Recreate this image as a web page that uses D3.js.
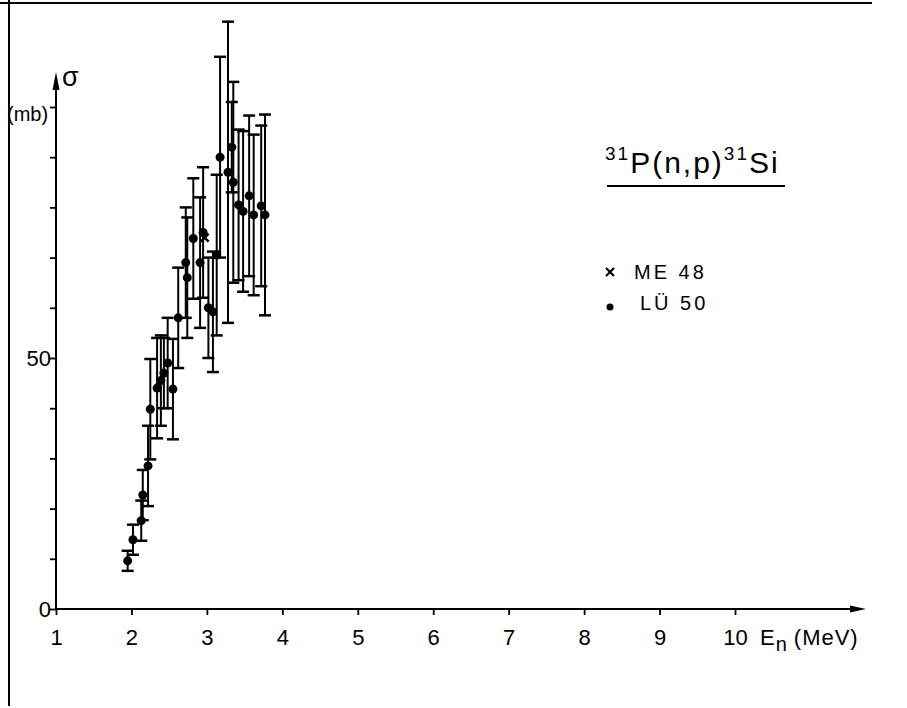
<!DOCTYPE html>
<html><head><meta charset="utf-8">
<script src="https://cdn.jsdelivr.net/npm/d3@7"></script>
<style>body{margin:0;background:#fff}svg{display:block}</style>
</head><body>
<script>
// LÜ 50 data: energy (MeV), cross section (mb), error (mb)
const luEnergy = [1.95,2.02,2.13,2.15,2.22,2.25,2.34,2.39,2.43,2.48,2.55,2.62,2.72,2.74,2.82,2.91,2.95,3.02,3.08,3.13,3.175,3.28,3.33,3.35,3.42,3.48,3.56,3.62,3.72,3.77];
const luSigma  = [9.6,13.8,17.6,22.7,28.5,39.8,44,45.5,47,49,43.8,58,69,66,73.8,69,75,60,59.2,70.5,90,87,92,85,80.5,79.2,82.3,78.5,80.3,78.5];
const luError  = [2,3,4,5,8,10,10,9,7,9,10,10,11,12,12,13,13,10,12,16,20,30,9,20,15,16,16,16,16,20];
// ME 48 data
const meEnergy = [2.97];
const meSigma  = [74];
// axis ticks
const xTicks = [1,2,3,4,5,6,7,8,9,10];
const yTicks = [0,10,20,30,40,50,60,70,80,90,100];
const yLabels = [0,50];

const W=907,H=708;
const svg=d3.select("body").append("svg").attr("width",W).attr("height",H);
const font="'Liberation Sans',Arial,sans-serif";
const x=d3.scaleLinear().domain([1,10]).range([56,735]);
const y=d3.scaleLinear().domain([0,100]).range([609,107]);

// frame lines
svg.append("line").attr("x1",9).attr("x2",9).attr("y1",0).attr("y2",706).attr("stroke","#000").attr("stroke-width",2);
svg.append("line").attr("x1",0).attr("x2",872).attr("y1",3).attr("y2",3).attr("stroke","#000").attr("stroke-width",2);

// axes
svg.append("line").attr("x1",x(1)).attr("x2",852).attr("y1",y(0)).attr("y2",y(0)).attr("stroke","#000").attr("stroke-width",2);
svg.append("path").attr("d",`M850,${y(0)-3.5}L866,${y(0)}L850,${y(0)+3.5}Z`).attr("fill","#000");
svg.append("line").attr("x1",x(1)).attr("x2",x(1)).attr("y1",y(0)).attr("y2",88).attr("stroke","#000").attr("stroke-width",2);
svg.append("path").attr("d",`M${x(1)-3.5},90L${x(1)},72L${x(1)+3.5},90Z`).attr("fill","#000");

const xAxis=d3.axisBottom(x).tickValues(xTicks).tickSize(6).tickFormat(d3.format("d"));
const gx=svg.append("g").attr("transform",`translate(0,${y(0)})`).call(xAxis);
gx.select(".domain").remove();
gx.selectAll(".tick line").attr("stroke","#000").attr("stroke-width",1.8);
gx.selectAll(".tick text").attr("font-family",font).attr("font-size",22).attr("fill","#000").attr("y",36).attr("dy",0);

const yAxis=d3.axisLeft(y).tickValues(yTicks).tickSize(6).tickFormat(d=>yLabels.includes(d)?d:"");
const gy=svg.append("g").attr("transform",`translate(${x(1)},0)`).call(yAxis);
gy.select(".domain").remove();
gy.selectAll(".tick line").attr("stroke","#000").attr("stroke-width",1.8);
gy.selectAll(".tick text").attr("font-family",font).attr("font-size",22).attr("fill","#000").attr("x",-5);

// axis titles
svg.append("text").attr("x",62).attr("y",86).attr("font-family",font).attr("font-size",27).text("σ");
svg.append("text").attr("x",7).attr("y",121).attr("font-family",font).attr("font-size",20).text("(mb)");
const xt=svg.append("text").attr("x",760).attr("y",645).attr("font-family",font).attr("font-size",22).attr("letter-spacing",1);
xt.append("tspan").text("E");
xt.append("tspan").attr("dy",6).attr("font-size",20).text("n");
xt.append("tspan").attr("dy",-6).attr("dx",6).text("(MeV)");

// data
const lu=luEnergy.map((e,i)=>({e,s:luSigma[i],err:luError[i]}));
const defs=svg.append("defs");
defs.append("clipPath").attr("id","clip").append("rect").attr("x",10).attr("y",4).attr("width",860).attr("height",620);
const g=svg.append("g").attr("clip-path","url(#clip)");
const cap=6;
lu.forEach(d=>{
  const cx=x(d.e);
  g.append("line").attr("x1",cx).attr("x2",cx).attr("y1",y(d.s-d.err)).attr("y2",y(d.s+d.err)).attr("stroke","#000").attr("stroke-width",2);
  [d.s-d.err,d.s+d.err].forEach(v=>g.append("line").attr("x1",cx-cap).attr("x2",cx+cap).attr("y1",y(v)).attr("y2",y(v)).attr("stroke","#000").attr("stroke-width",2.5));
  g.append("circle").attr("cx",cx).attr("cy",y(d.s)).attr("r",4.5).attr("fill","#000");
});
meEnergy.forEach((e,i)=>{
  const cx=x(e),cy=y(meSigma[i]);
  g.append("path").attr("d",`M${cx-4},${cy-4}L${cx+4},${cy+4}M${cx-4},${cy+4}L${cx+4},${cy-4}`).attr("stroke","#000").attr("stroke-width",2.5);
});

// legend / title
const t=svg.append("text").attr("x",605).attr("y",173).attr("font-family",font).attr("font-size",30).attr("letter-spacing",2);
t.append("tspan").attr("font-size",19).attr("dy",-13).text("31");
t.append("tspan").attr("dy",13).text("P(n,p)");
t.append("tspan").attr("font-size",19).attr("dy",-13).text("31");
t.append("tspan").attr("dy",13).text("Si");
svg.append("line").attr("x1",607).attr("x2",785).attr("y1",186).attr("y2",186).attr("stroke","#000").attr("stroke-width",2);
svg.append("path").attr("d","M606,268L614,276M606,276L614,268").attr("stroke","#000").attr("stroke-width",2.2);
svg.append("text").attr("x",634).attr("y",279).attr("font-family",font).attr("font-size",20).attr("letter-spacing",3).text("ME 48");
svg.append("circle").attr("cx",610).attr("cy",307).attr("r",3.5).attr("fill","#000");
svg.append("text").attr("x",640).attr("y",310).attr("font-family",font).attr("font-size",20).attr("letter-spacing",3).text("LÜ 50");
</script>
</body></html>
